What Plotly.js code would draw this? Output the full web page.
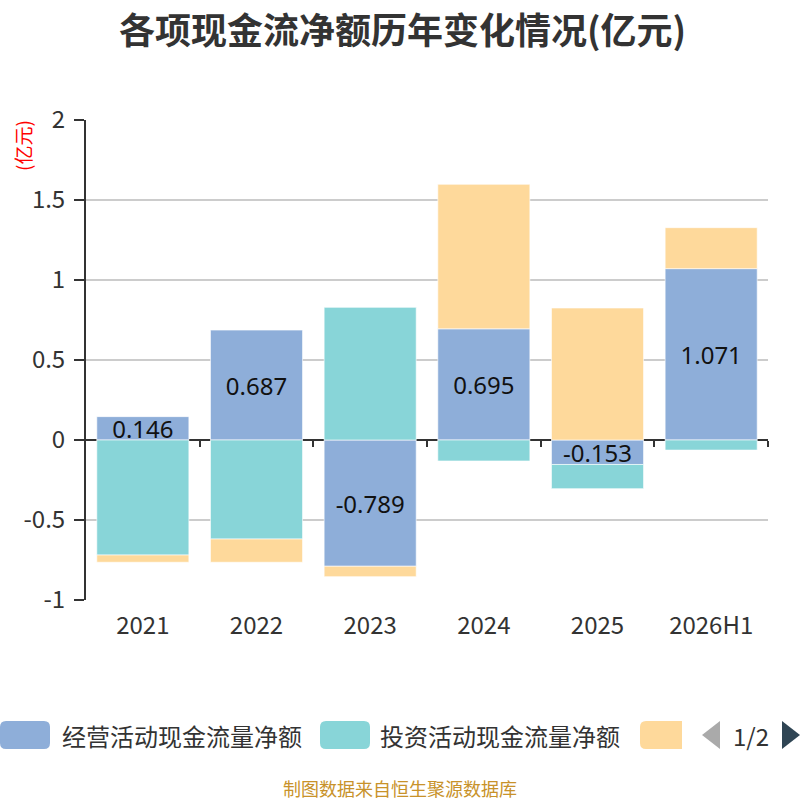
<!DOCTYPE html>
<html>
<head>
<meta charset="utf-8">
<script src="https://cdn.plot.ly/plotly-3.0.1.min.js"></script>
<style>html,body{margin:0;padding:0;background:#fff;}#chart{width:800px;height:800px;}</style>
</head>
<body>
<div id="chart"></div>
<script>
var categories = ["2021", "2022", "2023", "2024", "2025", "2026H1"];
var operating = [0.146, 0.687, -0.789, 0.695, -0.153, 1.071];
var investing = [-0.719, -0.619, 0.829, -0.131, -0.151, -0.063];
var financing = [-0.045, -0.145, -0.065, 0.903, 0.825, 0.256];
var seriesNames = ["经营活动现金流量净额", "投资活动现金流量净额", "筹资活动现金流量净额"];
var seriesColors = ["#8eaed9", "#88d5d8", "#fed99b"];
var yTickVals = [-1, -0.5, 0, 0.5, 1, 1.5, 2];
var yTickText = ["-1", "-0.5", "0", "0.5", "1", "1.5", "2"];
var boundaryTicks = [0.5, 1.5, 2.5, 3.5, 4.5, 5.5];

var FONT = '"Noto Sans CJK SC", "Noto Sans", sans-serif';
var W = 800, H = 800, ML = 86, MR = 32, MT = 120, MB = 200;
var PW = W - ML - MR, PH = H - MT - MB;
function px(x) { return (x - ML) / PW; }
function py(y) { return (H - MB - y) / PH; }

var lineStyle = {color: "rgba(255,255,255,0.6)", width: 1};
var traces = [
  {type: "bar", name: seriesNames[0], x: categories, y: operating,
   marker: {color: seriesColors[0], line: lineStyle},
   text: operating.map(function (v) { return v.toFixed(3); }),
   textposition: "inside", insidetextanchor: "middle", constraintext: "none", textangle: 0,
   textfont: {family: '"Noto Sans", "Noto Sans CJK SC", sans-serif', size: 24, color: "#111"}, showlegend: false},
  {type: "bar", name: seriesNames[1], x: categories, y: investing,
   marker: {color: seriesColors[1], line: lineStyle}, showlegend: false},
  {type: "bar", name: seriesNames[2], x: categories, y: financing,
   marker: {color: seriesColors[2], line: lineStyle}, showlegend: false},
  {type: "scatter", x: [], y: [], xaxis: "x2", yaxis: "y", showlegend: false, hoverinfo: "skip"}
];

var shapes = [];
var annotations = [];
// custom legend
var legendY = 735;
var legendItems = [
  {cx: 25, w: 50, textX: 60, label: seriesNames[0], color: seriesColors[0], cut: false},
  {cx: 345, w: 50, textX: 378, label: seriesNames[1], color: seriesColors[1], cut: false},
  {cx: 661, w: 42, textX: null, label: "", color: seriesColors[2], cut: true}
];
legendItems.forEach(function (it) {
  var hw = it.w / 2, hh = 14, r = 6;
  var path;
  if (!it.cut) {
    path = "M" + (-hw + r) + "," + (-hh) + " L" + (hw - r) + "," + (-hh) + " Q" + hw + "," + (-hh) + " " + hw + "," + (-hh + r) +
      " L" + hw + "," + (hh - r) + " Q" + hw + "," + hh + " " + (hw - r) + "," + hh +
      " L" + (-hw + r) + "," + hh + " Q" + (-hw) + "," + hh + " " + (-hw) + "," + (hh - r) +
      " L" + (-hw) + "," + (-hh + r) + " Q" + (-hw) + "," + (-hh) + " " + (-hw + r) + "," + (-hh) + " Z";
  } else {
    path = "M" + (-hw + r) + "," + (-hh) + " L" + hw + "," + (-hh) + " L" + hw + "," + hh +
      " L" + (-hw + r) + "," + hh + " Q" + (-hw) + "," + hh + " " + (-hw) + "," + (hh - r) +
      " L" + (-hw) + "," + (-hh + r) + " Q" + (-hw) + "," + (-hh) + " " + (-hw + r) + "," + (-hh) + " Z";
  }
  shapes.push({type: "path", xref: "paper", yref: "paper", xsizemode: "pixel", ysizemode: "pixel",
    xanchor: px(it.cx), yanchor: py(legendY), path: path,
    fillcolor: it.color, line: {width: 0}});
  if (it.textX !== null) {
    annotations.push({xref: "paper", yref: "paper", x: px(it.textX), y: py(legendY),
      xanchor: "left", yanchor: "middle", showarrow: false, text: it.label,
      font: {family: FONT, size: 24, color: "#333"}});
  }
});
// pager arrows
shapes.push({type: "path", xref: "paper", yref: "paper",
  path: "M" + px(720) + "," + py(721) + " L" + px(702) + "," + py(735) + " L" + px(720) + "," + py(749) + " Z",
  fillcolor: "#aaaaaa", line: {width: 0}});
shapes.push({type: "path", xref: "paper", yref: "paper",
  path: "M" + px(782) + "," + py(721) + " L" + px(800) + "," + py(735) + " L" + px(782) + "," + py(749) + " Z",
  fillcolor: "#2f4554", line: {width: 0}});
annotations.push({xref: "paper", yref: "paper", x: px(751), y: py(735), xanchor: "center", yanchor: "middle",
  showarrow: false, text: "1/2", font: {family: FONT, size: 24, color: "#333"}});
// unit label
annotations.push({xref: "paper", yref: "paper", x: px(22), y: py(146), xanchor: "center", yanchor: "middle",
  showarrow: false, text: "(亿元)", textangle: -90, font: {family: FONT, size: 19, color: "#ff0000"}});
// source
annotations.push({xref: "paper", yref: "paper", x: px(400), y: py(788), xanchor: "center", yanchor: "middle",
  showarrow: false, text: "制图数据来自恒生聚源数据库", font: {family: FONT, size: 18, color: "#c8922a"}});
// title as annotation
annotations.push({xref: "paper", yref: "paper", x: px(402), y: py(28), xanchor: "center", yanchor: "middle",
  showarrow: false, text: "<b>各项现金流净额历年变化情况(亿元)</b>", font: {family: FONT, size: 36, color: "#333"}});

var layout = {
  width: W, height: H,
  margin: {l: ML, r: MR, t: MT, b: MB, pad: 0},
  paper_bgcolor: "#fff", plot_bgcolor: "#fff",
  font: {family: FONT, color: "#333"},
  barmode: "relative", bargap: 0.19,
  showlegend: false,
  xaxis: {type: "category", range: [-0.5, 5.5], showline: false, ticks: "", showgrid: false, zeroline: false,
    tickfont: {family: FONT, size: 24, color: "#333"}, ticklabelstandoff: 9, fixedrange: true},
  xaxis2: {overlaying: "x", anchor: "free", position: 1 / 3, range: [-0.5, 5.5], type: "linear",
    showline: true, linecolor: "#333", linewidth: 2, layer: "below traces",
    tickmode: "array", tickvals: boundaryTicks, ticks: "outside", ticklen: 6, tickwidth: 2, tickcolor: "#333",
    showticklabels: false, showgrid: false, zeroline: false, fixedrange: true},
  yaxis: {range: [-1, 2], tickmode: "array", tickvals: yTickVals, ticktext: yTickText,
    showline: true, linecolor: "#333", linewidth: 2, ticks: "outside", ticklen: 10, tickwidth: 2, tickcolor: "#333",
    showgrid: true, gridcolor: "#cccccc", gridwidth: 1.5, zeroline: false,
    tickfont: {family: FONT, size: 24, color: "#333"}, ticklabelstandoff: 4, fixedrange: true},
  shapes: shapes,
  annotations: annotations
};

Plotly.newPlot("chart", traces, layout, {displayModeBar: false, staticPlot: true});
</script>
</body>
</html>
